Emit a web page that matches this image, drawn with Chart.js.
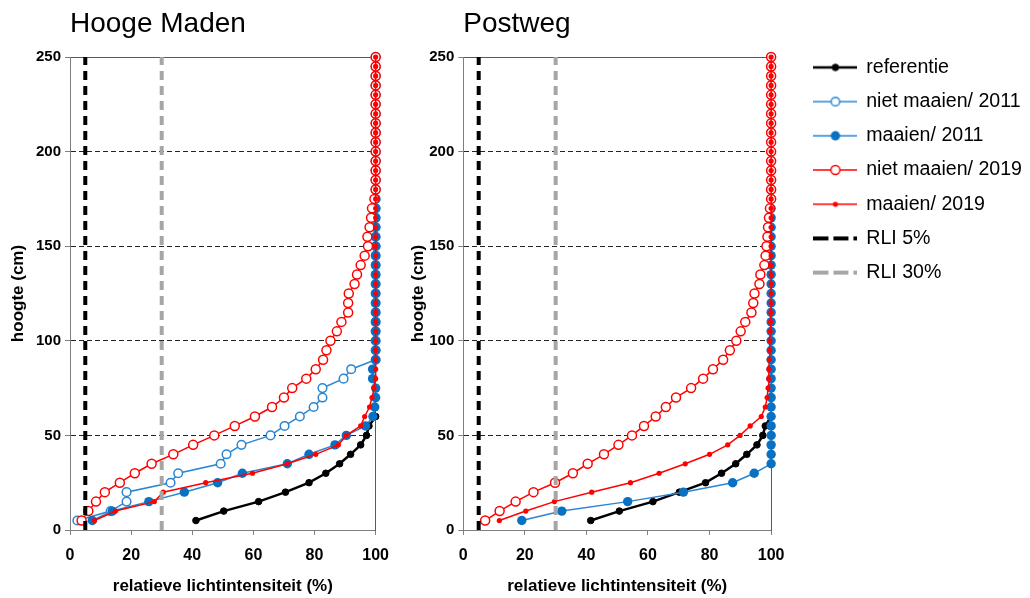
<!DOCTYPE html>
<html>
<head>
<meta charset="utf-8">
<script src="https://cdn.jsdelivr.net/npm/chart.js@4.4.1/dist/chart.umd.min.js"></script>
<style>
  html, body { margin: 0; padding: 0; background: #fff; overflow: hidden; }
  #wrap { position: relative; width: 1030px; height: 598px; overflow: hidden; }
  canvas { position: absolute; top: 0; }
  #hm { left: 0; }
  #pw { left: 400px; }
</style>
</head>
<body>
<div id="wrap">
  <canvas id="hm" width="400" height="598"></canvas>
  <canvas id="pw" width="632" height="598"></canvas>
</div>
<script>
// hoogte boven de grond (cm), elke 5 cm gemeten
const heights = [5, 10, 15, 20, 25, 30, 35, 40, 45, 50,
  55, 60, 65, 70, 75, 80, 85, 90, 95, 100,
  105, 110, 115, 120, 125, 130, 135, 140, 145, 150,
  155, 160, 165, 170, 175, 180, 185, 190, 195, 200,
  205, 210, 215, 220, 225, 230, 235, 240, 245, 250];

// RLI grenslijnen
const rliHeights = [0, 250];
const rli5 = [5, 5];
const rli30 = [30, 30];

// Hooge Maden (relatieve lichtintensiteit %)
const hmRef = [41.2, 50.3, 61.7, 70.5, 78.2, 83.7, 88.2, 91.8, 95.1, 97.0, 97.8, 100];
const hmNiet2011 = [2.4, 13.3, 18.5, 18.5, 32.9, 35.4, 49.3, 51.2, 56.1, 65.6,
  70.2, 75.2, 79.7, 82.6, 82.6, 89.5, 92.0, 100, 100, 100,
  100, 100, 100, 100, 100, 100, 100, 100, 100, 100,
  100, 100, 100, 100, 100, 100, 100, 100, 100, 100,
  100, 100, 100, 100, 100, 100, 100, 100, 100, 100];
const hmMaaien2011 = [7.3, 13.8, 25.8, 37.4, 48.3, 56.4, 71.1, 78.2, 86.7, 90.4,
  96.7, 99.1, 99.7, 100, 100, 99, 99, 100, 100, 100,
  100, 100, 100, 100, 100, 100, 100, 100, 100, 100,
  100, 100, 100, 100, 100, 100, 100, 100, 100, 100,
  100, 100, 100, 100, 100, 100, 100, 100, 100, 100];
const hmNiet2019 = [3.8, 6.0, 8.5, 11.4, 16.3, 21.2, 26.7, 33.8, 40.3, 47.2,
  53.9, 60.5, 66.1, 70.0, 72.7, 77.3, 80.4, 82.8, 83.9, 85.2,
  87.3, 88.8, 91.0, 91.0, 91.2, 93.1, 93.9, 95.1, 96.4, 97.5,
  97.3, 98.0, 98.5, 98.8, 99.6, 100, 100, 100, 100, 100,
  100, 100, 100, 100, 100, 100, 100, 100, 100, 100];
const hmMaaien2019 = [8.0, 14.9, 27.6, 30.5, 44.4, 59.7, 71.1, 80.4, 87.8, 90.4,
  95.1, 96.4, 98.0, 98.8, 99.5, 100, 100, 100, 100, 100,
  100, 100, 100, 100, 100, 100, 100, 100, 100, 100,
  100, 100, 100, 100, 100, 100, 100, 100, 100, 100,
  100, 100, 100, 100, 100, 100, 100, 100, 100, 100];

// Postweg
const pwRef = [41.4, 50.7, 61.6, 70.2, 78.7, 83.9, 88.5, 92.1, 95.4, 97.3, 98.1, 100];
const pwNiet2011 = [];
const pwMaaien2011 = [19.0, 32.0, 53.4, 71.5, 87.5, 94.5, 100, 100, 100, 100,
  100, 100, 100, 100, 100, 100, 100, 100, 100, 100,
  100, 100, 100, 100, 100, 100, 100, 100, 100, 100,
  100, 100, 100, 100, 100, 100, 100, 100, 100, 100,
  100, 100, 100, 100, 100, 100, 100, 100, 100, 100];
const pwNiet2019 = [7.1, 11.8, 17.0, 22.8, 29.8, 35.6, 40.4, 45.7, 50.4, 54.8,
  58.7, 62.5, 65.8, 69.1, 74.0, 77.9, 81.1, 84.4, 86.6, 88.7,
  90.1, 91.6, 93.6, 94.2, 94.6, 96.2, 96.5, 97.8, 98.2, 98.5,
  98.8, 99.0, 99.3, 99.6, 100, 100, 100, 100, 100, 100,
  100, 100, 100, 100, 100, 100, 100, 100, 100, 100];
const pwMaaien2019 = [11.7, 20.3, 29.6, 41.7, 54.3, 63.6, 72.1, 80.0, 85.9, 89.9,
  93.2, 96.8, 98.1, 98.7, 99.0, 99.2, 99.3, 99.4, 99.5, 99.6,
  99.7, 99.8, 99.9, 100, 100, 100, 100, 100, 100, 100,
  100, 100, 100, 100, 100, 100, 100, 100, 100, 100,
  100, 100, 100, 100, 100, 100, 100, 100, 100, 100];

const labels = ['referentie', 'niet maaien/ 2011', 'maaien/ 2011', 'niet maaien/ 2019', 'maaien/ 2019', 'RLI 5%', 'RLI 30%'];

Chart.defaults.font.family = "'Liberation Sans', Arial, sans-serif";
Chart.defaults.color = '#000';

const BLUE = '#2a86d2';
const BLUE_DOT = '#0a70c2';
const RED = '#ff0000';
const styles = [
  { line: '#000', lw: 2.5, r: 3.3, fill: '#000', pborder: '#000', pbw: 1 },
  { line: BLUE, lw: 1.5, r: 4.3, fill: '#fff', pborder: BLUE, pbw: 1.5 },
  { line: BLUE, lw: 1.5, r: 4.7, fill: BLUE_DOT, pborder: BLUE_DOT, pbw: 0 },
  { line: RED, lw: 1.5, r: 4.5, fill: '#fff', pborder: RED, pbw: 1.5 },
  { line: RED, lw: 1.5, r: 2.6, fill: RED, pborder: RED, pbw: 0 },
  { line: '#000', lw: 4, dash: [9, 6] },
  { line: '#a6a6a6', lw: 4, dash: [9, 6] }
];

function series(i, vals) {
  const st = styles[i];
  return {
    label: labels[i],
    data: vals.map((v, k) => ({ x: v, y: heights[k] })),
    borderColor: st.line, borderWidth: st.lw,
    pointRadius: st.r, pointHoverRadius: st.r,
    pointBackgroundColor: st.fill, pointBorderColor: st.pborder, pointBorderWidth: st.pbw,
    showLine: true, tension: 0, fill: false, clip: false,
    order: 7 - i
  };
}

function rli(i, vals) {
  const st = styles[i];
  return {
    label: labels[i],
    data: vals.map((v, k) => ({ x: v, y: rliHeights[k] })),
    borderColor: st.line, borderWidth: st.lw,
    borderDash: st.dash, borderCapStyle: 'butt',
    pointRadius: 0, pointHoverRadius: 0,
    showLine: true, tension: 0, fill: false, clip: false,
    order: 7 - i
  };
}

// kleine legendasymbolen: lijn met marker
function legendIcon(i) {
  const st = styles[i];
  const c = document.createElement('canvas');
  c.width = 44; c.height = 14;
  const g = c.getContext('2d');
  g.strokeStyle = st.line;
  g.lineWidth = st.lw;
  if (st.dash) g.setLineDash([15, 5]);
  g.beginPath(); g.moveTo(0, 7); g.lineTo(44, 7); g.stroke();
  if (!st.dash) {
    g.setLineDash([]);
    g.beginPath(); g.arc(22, 7, st.r, 0, Math.PI * 2);
    g.fillStyle = st.fill; g.fill();
    if (st.pbw) { g.lineWidth = st.pbw; g.strokeStyle = st.pborder; g.stroke(); }
  }
  return c;
}

function makeScales(leftW, rightW) {
  return {
    x: {
      type: 'linear', position: 'bottom', min: 0, max: 100,
      afterFit: s => { s.height = 68; },
      ticks: { stepSize: 20, padding: 11, font: { size: 16, weight: 'bold' }, color: '#000' },
      grid: { drawOnChartArea: false, drawTicks: true, tickLength: 5, tickColor: '#7f7f7f' },
      border: { color: '#7f7f7f', width: 1 },
      title: { display: true, text: 'relatieve lichtintensiteit (%)', font: { size: 17, weight: 'bold' }, color: '#000', padding: { top: 0, bottom: 1 } }
    },
    x2: {
      type: 'linear', position: 'top', min: 0, max: 100, display: true,
      afterFit: s => { s.height = 0; },
      ticks: { display: false }, grid: { display: false },
      border: { color: '#595959', width: 1 }
    },
    y: {
      type: 'linear', position: 'left', min: 0, max: 250,
      afterFit: s => { s.width = leftW; },
      ticks: { stepSize: 50, padding: 4, font: { size: 15, weight: 'bold' }, color: '#000' },
      grid: {
        color: c => (c.tick && c.tick.value > 0 && c.tick.value < 250) ? '#222' : 'rgba(0,0,0,0)',
        lineWidth: 1, tickLength: 5, tickColor: '#7f7f7f'
      },
      border: { color: '#7f7f7f', width: 1, dash: [5, 3] },
      title: { display: true, text: 'hoogte (cm)', font: { size: 17, weight: 'bold' }, color: '#000', padding: { top: 8, bottom: 0 } }
    },
    y2: {
      type: 'linear', position: 'right', min: 0, max: 250, display: true,
      afterFit: s => { s.width = rightW; },
      ticks: { display: false }, grid: { display: false },
      border: { color: '#595959', width: 1 }
    }
  };
}

function titleOpts(text) {
  return {
    display: true, text, align: 'start', fullSize: false,
    font: { size: 28, weight: 'normal' }, color: '#000',
    padding: { top: 7, bottom: 16.4 }
  };
}

new Chart(document.getElementById('hm'), {
  type: 'line',
  data: {
    datasets: [
      series(0, hmRef), series(1, hmNiet2011), series(2, hmMaaien2011),
      series(3, hmNiet2019), series(4, hmMaaien2019),
      rli(5, rli5), rli(6, rli30)
    ]
  },
  options: {
    responsive: false, animation: false,
    layout: { padding: 0 },
    scales: makeScales(70, 24),
    plugins: {
      title: titleOpts('Hooge Maden'),
      legend: { display: false },
      tooltip: { enabled: false }
    }
  }
});

const icons = labels.map((l, i) => legendIcon(i));

new Chart(document.getElementById('pw'), {
  type: 'line',
  data: {
    datasets: [
      series(0, pwRef), series(1, pwNiet2011), series(2, pwMaaien2011),
      series(3, pwNiet2019), series(4, pwMaaien2019),
      rli(5, rli5), rli(6, rli30)
    ]
  },
  options: {
    responsive: false, animation: false,
    layout: { padding: 0 },
    scales: makeScales(63.3, 28.7),
    plugins: {
      title: titleOpts('Postweg'),
      legend: {
        display: true, position: 'right', align: 'start', maxWidth: 236,
        title: { display: true, text: '', font: { size: 10 }, padding: { top: 31, bottom: 0 } },
        labels: {
          usePointStyle: true, pointStyleWidth: 42, padding: 14.6,
          font: { size: 19.6 }, color: '#000',
          generateLabels: chart => chart.data.datasets.map((ds, i) => ({
            text: ds.label, pointStyle: icons[i], fillStyle: 'transparent',
            strokeStyle: 'transparent', lineWidth: 0, hidden: false, datasetIndex: i, fontColor: '#000'
          }))
        }
      },
      tooltip: { enabled: false }
    }
  }
});
</script>
</body>
</html>
